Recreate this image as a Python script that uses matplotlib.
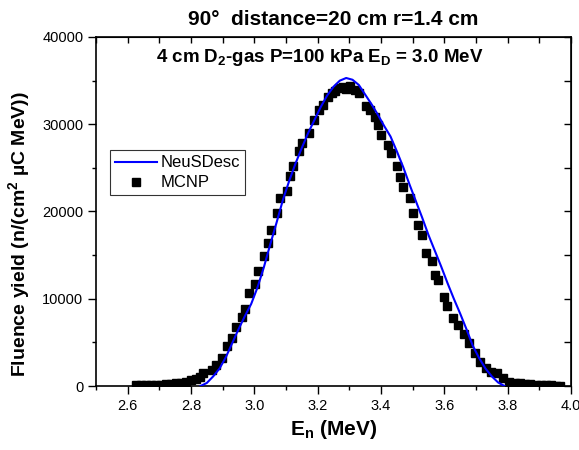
import numpy as np
import matplotlib
matplotlib.use("Agg")
import matplotlib.pyplot as plt
from matplotlib.ticker import MultipleLocator

plt.rcParams["font.family"] = ["Liberation Sans", "DejaVu Sans"]
plt.rcParams["mathtext.fontset"] = "custom"
plt.rcParams["mathtext.rm"] = "Liberation Sans:bold"
plt.rcParams["mathtext.bf"] = "Liberation Sans:bold"
plt.rcParams["mathtext.default"] = "bf"

# MCNP histogram points (energy in MeV, fluence)
mcnp_e = [2.625, 2.641, 2.657, 2.673, 2.689, 2.705, 2.721, 2.737, 2.753, 2.769,
          2.785, 2.801, 2.817, 2.829, 2.839, 2.865, 2.880, 2.897, 2.913, 2.928,
          2.942, 2.960, 2.970, 2.983, 3.002, 3.013, 3.031, 3.042, 3.052, 3.072,
          3.081, 3.102, 3.113, 3.123, 3.141, 3.151, 3.174, 3.189, 3.205, 3.216,
          3.232, 3.244, 3.255, 3.268, 3.281, 3.290, 3.302, 3.318, 3.332, 3.353,
          3.365, 3.381, 3.392, 3.400, 3.423, 3.431, 3.451, 3.460, 3.468, 3.492,
          3.502, 3.518, 3.528, 3.542, 3.560, 3.570, 3.581, 3.600, 3.609, 3.628,
          3.642, 3.663, 3.679, 3.697, 3.713, 3.731, 3.747, 3.765, 3.784, 3.805,
          3.823, 3.840, 3.856, 3.872, 3.888, 3.904, 3.920, 3.936, 3.952, 3.965]
mcnp_y = [60, 70, 90, 110, 130, 160, 200, 250, 320, 400,
          500, 650, 850, 1050, 1455, 1834, 2400, 3170, 4584, 5466,
          6727, 7873, 8790, 10620, 11655, 13215, 14900, 16350, 17880, 19790,
          21500, 22380, 24100, 25210, 26930, 27810, 29030, 30480, 31630, 32200,
          33100, 33540, 33800, 34100, 34300, 34000, 34400, 33920, 33610, 32090,
          31630, 30790, 29910, 28770, 27620, 26670, 25210, 23990, 22840, 21510,
          19860, 18450, 17300, 15210, 14330, 12720, 12150, 10240, 9200, 7830,
          6990, 5960, 4890, 3750, 2790, 2100, 1640, 1460, 880, 490,
          380, 300, 240, 200, 160, 120, 90, 70, 50, 40]

# NeuSDesc calculation
neus_e = [2.83, 2.85, 2.87, 2.89, 2.91, 2.93, 2.95, 2.97, 2.99, 3.01,
          3.03, 3.05, 3.07, 3.09, 3.11, 3.13, 3.15, 3.17, 3.19, 3.21,
          3.23, 3.25, 3.27, 3.29, 3.31, 3.33, 3.35, 3.37, 3.39, 3.41,
          3.43, 3.45, 3.47, 3.49, 3.51, 3.53, 3.55, 3.57, 3.59, 3.61,
          3.63, 3.65, 3.67, 3.69, 3.71, 3.73, 3.75, 3.77, 3.79]
neus_y = [0, 350, 1100, 2000, 3300, 4900, 6500, 8000, 9400, 11300,
          13600, 16200, 18700, 21300, 23500, 25500, 27300, 29000, 30500, 32000,
          33300, 34300, 35000, 35300, 35100, 34500, 33400, 32300, 31100, 29800,
          28600, 26900, 25100, 23100, 21200, 19300, 17300, 15500, 13700, 11800,
          10000, 8300, 6500, 4600, 3200, 2000, 1100, 400, 0]

fig = plt.figure(figsize=(5.79, 4.5), dpi=100)
ax = fig.add_axes([0.1658, 0.1422, 0.8204, 0.7756])

ax.plot(neus_e, neus_y, color="#0000ff", lw=1.5, label="NeuSDesc", zorder=3)
ax.plot(mcnp_e, mcnp_y, ls="none", marker="s", ms=5.2, color="black",
        label="MCNP", zorder=2)

ax.set_xlim(2.5, 4.0)
ax.set_ylim(0, 40000)
ax.xaxis.set_minor_locator(MultipleLocator(0.1))
ax.yaxis.set_major_locator(MultipleLocator(10000))
ax.yaxis.set_minor_locator(MultipleLocator(5000))
ax.set_xticks([2.6, 2.8, 3.0, 3.2, 3.4, 3.6, 3.8, 4.0])
ax.set_xticklabels(["2.6", "2.8", "3.0", "3.2", "3.4", "3.6", "3.8", "4.0"])

ax.tick_params(axis="both", which="both", direction="out", labelsize=10.5,
               width=1, top=False, right=False)
ax.tick_params(which="major", length=5.5)
ax.tick_params(which="minor", length=3)
for s in ax.spines.values():
    s.set_linewidth(1.2)

# mirror ticks pointing inward on top and right
sec_x = ax.secondary_xaxis("top")
sec_x.xaxis.set_major_locator(MultipleLocator(0.1))
sec_x.tick_params(direction="in", length=4, width=1, labeltop=False)
sec_y = ax.secondary_yaxis("right")
sec_y.yaxis.set_major_locator(MultipleLocator(5000))
sec_y.tick_params(direction="in", length=5, width=1, labelright=False)

ax.set_xlabel(r"E$_n$ (MeV)", fontsize=15, fontweight="bold", labelpad=4)
ax.set_ylabel(r"Fluence yield (n/(cm$^2$ µC MeV))", fontsize=14,
              fontweight="bold")
ax.yaxis.set_label_coords(-0.135, 0.436)
ax.set_title("90°  distance=20 cm r=1.4 cm", fontsize=15, fontweight="bold",
             pad=8.5)
ax.text(0.4705, 0.928, r"4 cm D$_2$-gas P=100 kPa E$_D$ = 3.0 MeV",
        transform=ax.transAxes, ha="center", va="baseline", fontsize=13.5,
        fontweight="bold")

leg = ax.legend(loc="upper left", bbox_to_anchor=(0.03, 0.675), fontsize=12,
                frameon=True, fancybox=False, handlelength=2.5,
                borderpad=0.3, labelspacing=0.3, handletextpad=0.2,
                borderaxespad=0)
leg.get_frame().set_edgecolor("black")
leg.get_frame().set_linewidth(0.8)

fig.savefig("out.png", dpi=100)
